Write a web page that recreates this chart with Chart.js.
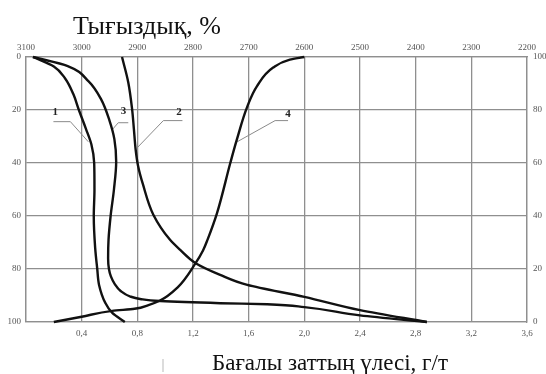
<!DOCTYPE html>
<html>
<head>
<meta charset="utf-8">
<script src="https://cdn.jsdelivr.net/npm/chart.js@4/dist/chart.umd.min.js"></script>
<style>
  html, body { margin: 0; padding: 0; background: #fff; }
  #box { width: 546px; height: 374px; }
</style>
</head>
<body>
<div id="box"><canvas id="mychart" width="546" height="374"></canvas></div>
<script>
// axis ticks
const gradeTicks = [0, 0.4, 0.8, 1.2, 1.6, 2.0, 2.4, 2.8, 3.2, 3.6]
const gradeLabels = ['', '0,4', '0,8', '1,2', '1,6', '2,0', '2,4', '2,8', '3,2', '3,6']
const densityTicks = [2200, 2300, 2400, 2500, 2600, 2700, 2800, 2900, 3000, 3100]
const depthTicks = [0, 20, 40, 60, 80, 100]

// curves 1-3: grade (g/t) vs %
const curve1 = [[0.05, 0], [0.2, 3.6], [0.28, 8], [0.34, 14], [0.38, 20], [0.43, 27], [0.47, 33],
  [0.49, 40], [0.492, 50], [0.487, 60], [0.497, 72], [0.512, 80], [0.525, 86], [0.57, 92.8],
  [0.62, 96.6], [0.71, 100]]
const curve2 = [[0.69, 0], [0.735, 9.6], [0.762, 19.5], [0.775, 27], [0.788, 35], [0.805, 41], [0.84, 48],
  [0.915, 59.5], [1.035, 69], [1.108, 72.8], [1.216, 77.7], [1.395, 82.2], [1.59, 86], [2.0, 90.5],
  [2.4, 95.5], [2.88, 100]]
const curve3 = [[0.05, 0], [0.3, 3.4], [0.45, 9.2], [0.54, 16], [0.6, 24], [0.635, 31], [0.648, 39.5],
  [0.632, 50], [0.608, 60], [0.593, 69], [0.59, 76], [0.596, 80], [0.61, 82.8], [0.637, 85.6],
  [0.68, 88.3], [0.75, 90.4], [0.82, 91.3], [0.965, 92.1], [1.395, 92.9], [1.733, 93.3], [2.0, 94.4],
  [2.4, 97.5], [2.88, 100]]
// curve 4: density vs %
const curve4 = [[2600, 0], [2626, 1], [2656, 4], [2685, 11], [2703, 19], [2721, 31], [2733, 40], [2757, 59],
  [2774, 69], [2782, 73], [2796, 78], [2828, 87], [2860, 92], [2880, 93.6], [2905, 95], [2945, 95.8],
  [3000, 98], [3050, 100]]

// leader lines and their numbers (grade, %)
const leader1 = [[0.197, 24.4], [0.319, 24.4], [0.448, 32]]
const leader2 = [[1.124, 24], [0.987, 24], [0.8, 34.2]]
const leader3 = [[0.735, 24.8], [0.663, 24.8], [0.62, 27.4]]
const leader4 = [[1.883, 24], [1.79, 24], [1.517, 32]]
const curveNames = ['1', '2', '3', '4']
const namePos = [[0.21, 21], [1.1, 21], [0.7, 20.6], [1.883, 21.7]]

const topTitle = 'Тығыздық, %'
const bottomTitle = 'Бағалы заттың үлесі, г/т'

const serif = '"Liberation Serif", "DejaVu Serif", serif'
const gridCol = '#8f8f8f'

function pts(arr) { return arr.map(p => ({ x: p[0], y: p[1] })) }

function curveSet(arr, xAxis) {
    return {
        data: pts(arr), xAxisID: xAxis, yAxisID: 'y', indexAxis: 'y',
        borderColor: '#111', borderWidth: 2.4, pointRadius: 0,
        cubicInterpolationMode: 'monotone', clip: false
    }
}
function leaderSet(arr) {
    return {
        data: pts(arr), xAxisID: 'x', yAxisID: 'y',
        borderColor: '#8a8a8a', borderWidth: 1, pointRadius: 0,
        tension: 0, clip: false
    }
}

const tickFont = { family: serif, size: 9 }

const textPlugin = {
    id: 'texts',
    afterDraw(chart) {
        const ctx = chart.ctx
        const xs = chart.scales.x, ys = chart.scales.y
        ctx.save()
        ctx.fillStyle = '#222'
        ctx.font = 'bold 11px ' + serif
        ctx.textAlign = 'center'
        ctx.textBaseline = 'middle'
        curveNames.forEach((n, i) => {
            ctx.fillText(n, xs.getPixelForValue(namePos[i][0]), ys.getPixelForValue(namePos[i][1]))
        })
        ctx.fillStyle = '#111'
        ctx.textBaseline = 'alphabetic'
        ctx.font = '26px ' + serif
        ctx.fillText(topTitle, 147, 34)
        ctx.font = '23px ' + serif
        ctx.fillText(bottomTitle, 330, 370)
        ctx.fillStyle = '#aaa'
        ctx.font = '15px ' + serif
        ctx.fillText('|', 163, 369)
        ctx.restore()
    }
}

var ctx = document.getElementById('mychart').getContext('2d')
const chart = new Chart(ctx, {
    type: 'line',
    data: {
        datasets: [
            curveSet(curve1, 'x'), curveSet(curve2, 'x'), curveSet(curve3, 'x'), curveSet(curve4, 'x2'),
            leaderSet(leader1), leaderSet(leader2), leaderSet(leader3), leaderSet(leader4)
        ]
    },
    options: {
        responsive: false,
        animation: false,
        layout: { padding: 0 },
        plugins: { legend: { display: false }, tooltip: { enabled: false } },
        scales: {
            x: {
                type: 'linear', position: 'bottom', min: 0, max: 3.6,
                afterBuildTicks: s => { s.ticks = gradeTicks.map(v => ({ value: v })) },
                afterFit: s => { s.height = 52 },
                ticks: { font: tickFont, color: '#555', padding: 6, maxRotation: 0, autoSkip: false,
                    callback: (v, i) => gradeLabels[i] },
                grid: { color: gridCol, lineWidth: 1.3, drawTicks: false },
                border: { color: gridCol, width: 1.3 }
            },
            x2: {
                type: 'linear', position: 'top', min: 2200, max: 3100, reverse: true,
                afterBuildTicks: s => { s.ticks = densityTicks.map(v => ({ value: v })) },
                afterFit: s => { s.height = 57 },
                ticks: { font: tickFont, color: '#555', padding: 4, maxRotation: 0, autoSkip: false,
                    callback: v => String(v) },
                grid: { display: false, drawTicks: false },
                border: { color: gridCol, width: 1.3 }
            },
            y: {
                type: 'linear', position: 'left', min: 0, max: 100, reverse: true,
                afterBuildTicks: s => { s.ticks = depthTicks.map(v => ({ value: v })) },
                afterFit: s => { s.width = 26 },
                ticks: { font: tickFont, color: '#555', padding: 5, autoSkip: false },
                grid: { color: gridCol, lineWidth: 1.3, drawTicks: false },
                border: { color: gridCol, width: 1.3 }
            },
            y2: {
                type: 'linear', position: 'right', min: 0, max: 100,
                afterBuildTicks: s => { s.ticks = depthTicks.map(v => ({ value: v })) },
                afterFit: s => { s.width = 19 },
                ticks: { font: tickFont, color: '#555', padding: 6, autoSkip: false },
                grid: { display: false, drawTicks: false },
                border: { color: gridCol, width: 1.3 }
            }
        }
    },
    plugins: [textPlugin]
})
</script>
</body>
</html>
